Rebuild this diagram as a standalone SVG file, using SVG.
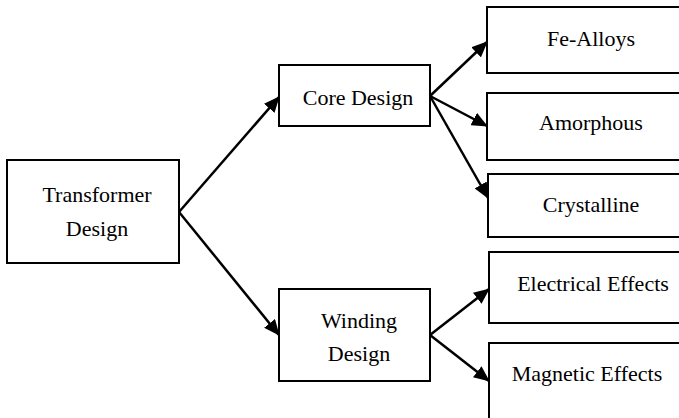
<svg xmlns="http://www.w3.org/2000/svg" width="679" height="418" viewBox="0 0 679 418">
  <style>
    .box { fill: #ffffff; stroke: #000000; stroke-width: 2; }
    .link { stroke: #000000; stroke-width: 2.5; fill: none; marker-end: url(#head); }
  </style>
  <defs>
    <marker id="head" markerUnits="userSpaceOnUse" markerWidth="16" markerHeight="14" refX="15" refY="7" orient="auto">
      <path d="M0,0 L16,7 L0,14 z" fill="#000000"/>
    </marker>
  </defs>
  <rect width="679" height="418" fill="#ffffff"/>

  <g id="connectors">
    <line class="link" x1="179" y1="212" x2="279" y2="97"/>
    <line class="link" x1="179" y1="212" x2="279" y2="335"/>
    <line class="link" x1="430" y1="96" x2="487" y2="42"/>
    <line class="link" x1="430" y1="96" x2="487" y2="126"/>
    <line class="link" x1="430" y1="96" x2="488" y2="198"/>
    <line class="link" x1="430" y1="335" x2="489" y2="289"/>
    <line class="link" x1="430" y1="335" x2="489" y2="381"/>
  </g>

  <g font-family="Liberation Serif, 'Times New Roman', serif" font-size="22" fill="#000000" text-anchor="middle">
    <g id="transformer-design">
      <rect class="box" x="7" y="160" width="172" height="103"/>
      <text x="97" y="202">Transformer</text>
      <text x="97" y="236">Design</text>
    </g>

    <g id="core-design">
      <rect class="box" x="279" y="65" width="151" height="61"/>
      <text x="358" y="105">Core Design</text>
    </g>

    <g id="winding-design">
      <rect class="box" x="279" y="289" width="151" height="92"/>
      <text x="359" y="328">Winding</text>
      <text x="359" y="361">Design</text>
    </g>

    <g id="fe-alloys">
      <rect class="box" x="487" y="7" width="210" height="66"/>
      <text x="591" y="46">Fe-Alloys</text>
    </g>

    <g id="amorphous">
      <rect class="box" x="487" y="93" width="210" height="67"/>
      <text x="591" y="130">Amorphous</text>
    </g>

    <g id="crystalline">
      <rect class="box" x="488" y="174" width="210" height="63"/>
      <text x="591" y="212">Crystalline</text>
    </g>

    <g id="electrical-effects">
      <rect class="box" x="489" y="252" width="210" height="71"/>
      <text x="593" y="291">Electrical Effects</text>
    </g>

    <g id="magnetic-effects">
      <rect class="box" x="489" y="343" width="210" height="100"/>
      <text x="587" y="381">Magnetic Effects</text>
    </g>
  </g>
</svg>
